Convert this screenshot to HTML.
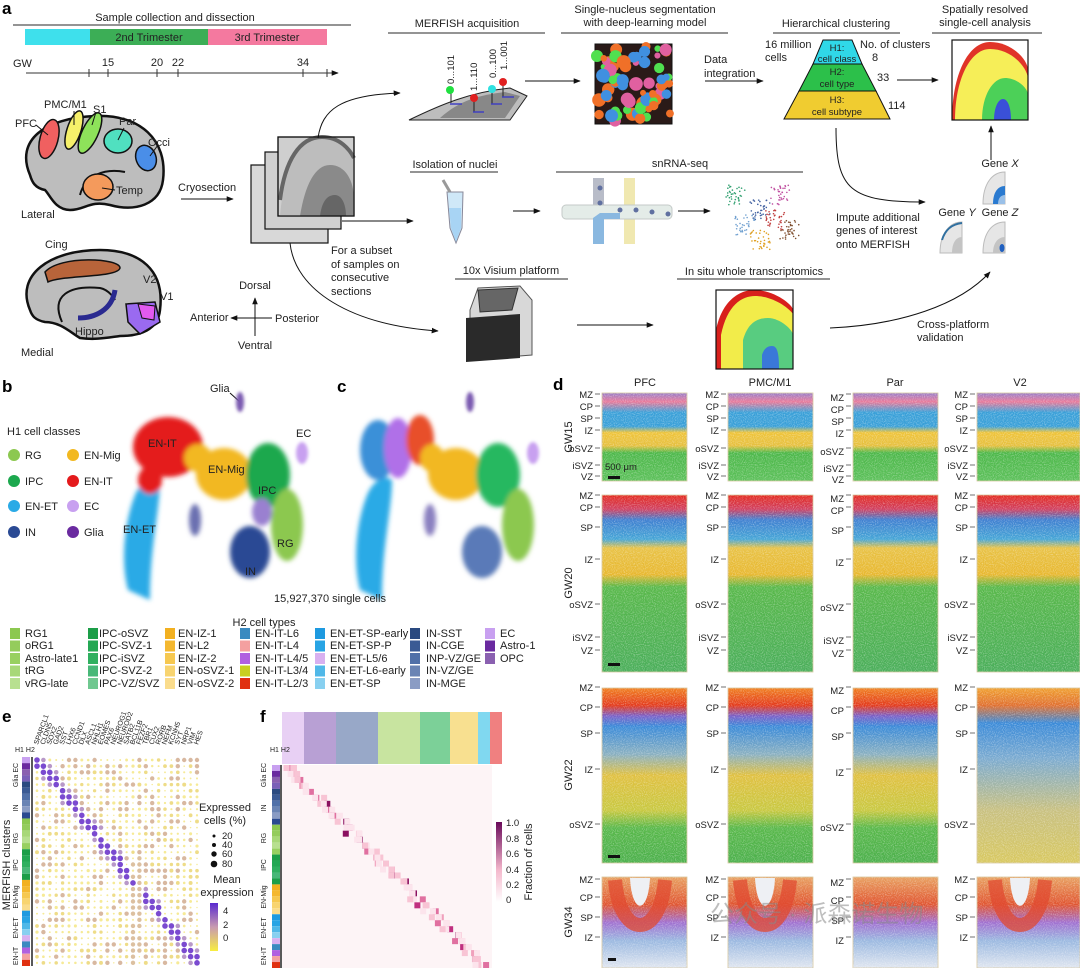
<!DOCTYPE html>
<html><head><meta charset="utf-8"><style>
html,body{margin:0;padding:0;background:#fff}
svg{display:block}
text{font-family:"Liberation Sans","Noto Sans CJK SC",sans-serif;fill:#222}
.t{font-size:11px}.s{font-size:9.5px}.xs{font-size:7px}.b{font-size:17px;font-weight:bold;fill:#000}
</style></head><body>
<svg id="S" width="1080" height="968" viewBox="0 0 1080 968" xmlns="http://www.w3.org/2000/svg">
<defs>
<marker id="ar" viewBox="0 0 10 10" refX="9" refY="5" markerWidth="7" markerHeight="7" orient="auto"><path d="M0,1 L10,5 L0,9 z" fill="#111"/></marker>
<filter id="bl"><feGaussianBlur stdDeviation="2.5"/></filter>
<filter id="bl2"><feGaussianBlur stdDeviation="1.5"/></filter>
<filter id="nz" x="0" y="0" width="1" height="1"><feTurbulence type="fractalNoise" baseFrequency="0.9" numOctaves="1" seed="3"/><feColorMatrix values="0 0 0 0 1  0 0 0 0 1  0 0 0 0 1  0 0 0 -2.2 1.25"/></filter>
<linearGradient id="g15" x1="0" y1="0" x2="0" y2="1"><stop offset="0" stop-color="#9a7fc9"/><stop offset=".1" stop-color="#e87a9a"/><stop offset=".22" stop-color="#3aa0d8"/><stop offset=".38" stop-color="#3aa0d8"/><stop offset=".45" stop-color="#efc43a"/><stop offset=".6" stop-color="#e6c040"/><stop offset=".68" stop-color="#4db84a"/><stop offset="1" stop-color="#5cc05a"/></linearGradient>
<linearGradient id="g20" x1="0" y1="0" x2="0" y2="1"><stop offset="0" stop-color="#e42a1e"/><stop offset=".08" stop-color="#d04060"/><stop offset=".14" stop-color="#3f7fd0"/><stop offset=".25" stop-color="#45a5d6"/><stop offset=".3" stop-color="#e8c246"/><stop offset=".45" stop-color="#e8b830"/><stop offset=".52" stop-color="#58b84a"/><stop offset="1" stop-color="#4aae5a"/></linearGradient>
<linearGradient id="g22" x1="0" y1="0" x2="0" y2="1"><stop offset="0" stop-color="#f08020"/><stop offset=".1" stop-color="#e33a1c"/><stop offset=".16" stop-color="#7a60c8"/><stop offset=".22" stop-color="#3a8ad8"/><stop offset=".38" stop-color="#8ab0c0"/><stop offset=".5" stop-color="#e0c040"/><stop offset=".7" stop-color="#c8c840"/><stop offset=".8" stop-color="#58b84a"/><stop offset="1" stop-color="#4cb04c"/></linearGradient>
<linearGradient id="g22v" x1="0" y1="0" x2="0" y2="1"><stop offset="0" stop-color="#f0a030"/><stop offset=".1" stop-color="#e07030"/><stop offset=".2" stop-color="#3a8ad8"/><stop offset=".4" stop-color="#7aaad0"/><stop offset=".7" stop-color="#c8c080"/><stop offset="1" stop-color="#d8c860"/></linearGradient>
<linearGradient id="g34" x1="0" y1="0" x2="0" y2="1"><stop offset="0" stop-color="#e8a060"/><stop offset=".3" stop-color="#e05530"/><stop offset=".5" stop-color="#a070d0"/><stop offset=".7" stop-color="#9ab8e0"/><stop offset="1" stop-color="#e0e6f0"/></linearGradient>
<linearGradient id="gme" x1="0" y1="1" x2="0" y2="0"><stop offset="0" stop-color="#f8ee40"/><stop offset=".5" stop-color="#c89ab0"/><stop offset="1" stop-color="#5a2ad0"/></linearGradient>
<linearGradient id="gfr" x1="0" y1="1" x2="0" y2="0"><stop offset="0" stop-color="#fff"/><stop offset=".4" stop-color="#f4b8cc"/><stop offset="1" stop-color="#6a0a5a"/></linearGradient>
</defs>

<!-- ===== Panel a ===== -->
<text x="2" y="14" class="b">a</text>
<text x="175" y="21" class="t" text-anchor="middle">Sample collection and dissection</text>
<line x1="13" y1="25" x2="351" y2="25" stroke="#555" stroke-width="1.2"/>
<rect x="25" y="29" width="65" height="16" fill="#3ee0ec"/>
<rect x="90" y="29" width="118" height="16" fill="#3cae56"/>
<rect x="208" y="29" width="119" height="16" fill="#f4799f"/>
<text x="149" y="41" class="t" text-anchor="middle">2nd Trimester</text>
<text x="267" y="41" class="t" text-anchor="middle">3rd Trimester</text>
<text x="13" y="67" class="t">GW</text>
<line x1="26" y1="73" x2="338" y2="73" stroke="#333" marker-end="url(#ar)"/>
<g stroke="#333"><line x1="89" y1="69" x2="89" y2="77"/><line x1="108" y1="69" x2="108" y2="77"/><line x1="157" y1="69" x2="157" y2="77"/><line x1="178" y1="69" x2="178" y2="77"/><line x1="303" y1="69" x2="303" y2="77"/><line x1="327" y1="69" x2="327" y2="77"/></g>
<text x="108" y="66" class="t" text-anchor="middle">15</text><text x="157" y="66" class="t" text-anchor="middle">20</text><text x="178" y="66" class="t" text-anchor="middle">22</text><text x="303" y="66" class="t" text-anchor="middle">34</text>

<!-- lateral brain -->
<path d="M30,175 C15,140 45,118 95,116 C140,114 168,140 163,180 C160,205 135,212 110,205 C90,200 85,210 70,210 C55,210 50,195 45,190 C35,188 32,182 30,175 Z" fill="#bdbdbd" stroke="#111" stroke-width="2.5"/>
<path d="M80,195 C85,175 105,168 125,172" fill="none" stroke="#111" stroke-width="2"/>
<ellipse cx="49" cy="139" rx="9" ry="20" transform="rotate(15 49 139)" fill="#f06060" stroke="#111" stroke-width="1.5"/>
<ellipse cx="74" cy="130" rx="7" ry="20" transform="rotate(18 74 130)" fill="#f6f06a" stroke="#111" stroke-width="1.5"/>
<ellipse cx="90" cy="133" rx="8" ry="22" transform="rotate(25 90 133)" fill="#8ee25a" stroke="#111" stroke-width="1.5"/>
<ellipse cx="118" cy="141" rx="14" ry="12" fill="#50e0c0" stroke="#111" stroke-width="1.5"/>
<ellipse cx="146" cy="158" rx="10" ry="13" transform="rotate(-20 146 158)" fill="#4a8ee8" stroke="#111" stroke-width="1.5"/>
<ellipse cx="98" cy="187" rx="15" ry="13" fill="#f49a5c" stroke="#111" stroke-width="1.5"/>
<g stroke="#111" stroke-width="1"><line x1="36" y1="125" x2="48" y2="135"/><line x1="74" y1="111" x2="74" y2="125"/><line x1="96" y1="112" x2="92" y2="125"/><line x1="124" y1="128" x2="118" y2="140"/><line x1="158" y1="145" x2="150" y2="156"/><line x1="115" y1="190" x2="102" y2="188"/></g>
<text x="15" y="127" class="t">PFC</text><text x="44" y="108" class="t">PMC/M1</text><text x="93" y="113" class="t">S1</text><text x="119" y="125" class="t">Par</text><text x="148" y="146" class="t">Occi</text><text x="116" y="194" class="t">Temp</text><text x="21" y="218" class="t">Lateral</text>
<!-- medial brain -->
<path d="M30,310 C15,275 50,250 100,250 C140,250 165,270 160,310 C158,330 140,336 120,336 C105,338 95,340 80,338 C70,332 60,322 45,322 C35,320 32,316 30,310 Z" fill="#bdbdbd" stroke="#111" stroke-width="2.5"/>
<path d="M45,272 C60,255 120,258 120,268 C118,278 60,275 48,282 Z" fill="#b8643a" stroke="#111" stroke-width="1.5"/>
<path d="M62,322 C50,295 70,285 100,288 C110,290 115,300 115,300" fill="none" stroke="#111" stroke-width="2"/>
<path d="M78,318 C95,318 112,310 115,290" fill="none" stroke="#2a2a90" stroke-width="5"/>
<path d="M126,304 L155,302 L160,322 L140,334 L128,322 Z" fill="#9a6af0" stroke="#111" stroke-width="1.5"/>
<path d="M138,304 L155,306 L154,320 L142,318 Z" fill="#e25af0" stroke="#111" stroke-width="1"/>
<text x="45" y="248" class="t">Cing</text><text x="143" y="283" class="t">V2</text><text x="160" y="300" class="t">V1</text><text x="75" y="335" class="t">Hippo</text><text x="21" y="356" class="t">Medial</text>

<text x="178" y="191" class="t">Cryosection</text>
<line x1="181" y1="199" x2="233" y2="199" stroke="#111" marker-end="url(#ar)"/>
<!-- sections -->
<g stroke="#111" stroke-width="1.2">
<rect x="251" y="165" width="77" height="78" fill="#d8d8d8"/>
<rect x="265" y="152" width="76" height="77" fill="#d0d0d0"/>
<rect x="278" y="137" width="76" height="79" fill="#cfcfcf"/>
</g>
<path d="M280,216 C285,160 300,137 322,137 C340,137 350,150 354,158 L354,216 Z" fill="#bdbdbd"/>
<path d="M300,216 C305,185 315,165 330,165 C345,165 354,180 354,200 L354,216 Z" fill="#8a8a8a"/>
<path d="M320,216 C322,200 328,195 335,195 C342,195 346,205 346,216 Z" fill="#666"/>
<path d="M280,200 C285,160 300,137 322,137 C340,137 350,150 354,158" fill="none" stroke="#666" stroke-width="4"/>
<rect x="278" y="137" width="76" height="79" fill="none" stroke="#111" stroke-width="1.2"/>
<path d="M318,138 C322,110 340,95 400,93" fill="none" stroke="#111" marker-end="url(#ar)"/>
<line x1="342" y1="221" x2="413" y2="221" stroke="#111" marker-end="url(#ar)"/>
<path d="M290,243 C295,290 350,325 438,331" fill="none" stroke="#111" marker-end="url(#ar)"/>
<text x="331" y="254" class="t">For a subset</text><text x="331" y="268" class="t">of samples on</text><text x="331" y="281" class="t">consecutive</text><text x="331" y="295" class="t">sections</text>
<text x="255" y="289" class="t" text-anchor="middle">Dorsal</text><text x="255" y="349" class="t" text-anchor="middle">Ventral</text>
<text x="190" y="321" class="t">Anterior</text><text x="275" y="322" class="t">Posterior</text>
<line x1="255" y1="336" x2="255" y2="298" stroke="#111" marker-end="url(#ar)"/><line x1="272" y1="318" x2="231" y2="318" stroke="#111" marker-end="url(#ar)"/>

<!-- MERFISH -->
<text x="467" y="27" class="t" text-anchor="middle">MERFISH acquisition</text>
<line x1="388" y1="33" x2="545" y2="33" stroke="#555" stroke-width="1.2"/>
<path d="M409,120 C440,105 470,92 510,88 L527,96 L510,120 Z" fill="#bdbdbd" stroke="#222"/>
<path d="M440,118 C460,100 480,95 505,92 L520,96 L505,118 Z" fill="#888"/>
<g stroke="#222"><line x1="451" y1="90" x2="451" y2="103"/><line x1="474" y1="98" x2="474" y2="112"/><line x1="492" y1="90" x2="492" y2="104"/><line x1="503" y1="83" x2="503" y2="97"/></g>
<g stroke="#4040c0" stroke-width="1.5"><line x1="450" y1="104" x2="462" y2="104"/><line x1="473" y1="112" x2="484" y2="112"/><line x1="491" y1="104" x2="502" y2="104"/><line x1="502" y1="97" x2="514" y2="97"/></g>
<circle cx="450" cy="90" r="4" fill="#20e040"/><circle cx="474" cy="98" r="4" fill="#e02020"/><circle cx="492" cy="89" r="4" fill="#30e0e0"/><circle cx="503" cy="82" r="4" fill="#e02020"/>
<g class="s"><text transform="translate(454,84) rotate(-90)" class="s">0...101</text><text transform="translate(477,91) rotate(-90)" class="s">1...110</text><text transform="translate(496,78) rotate(-90)" class="s">0...100</text><text transform="translate(507,70) rotate(-90)" class="s">1...001</text></g>
<line x1="525" y1="81" x2="580" y2="81" stroke="#111" marker-end="url(#ar)"/>
<text x="645" y="13" class="t" text-anchor="middle">Single-nucleus segmentation</text>
<text x="645" y="26" class="t" text-anchor="middle">with deep-learning model</text>
<line x1="561" y1="33" x2="728" y2="33" stroke="#555" stroke-width="1.2"/>
<rect x="595" y="44" width="77" height="80" fill="#2a1a18" stroke="#111"/>
<g id="seg"></g>
<text x="704" y="63" class="t">Data</text><text x="704" y="77" class="t">integration</text>
<line x1="705" y1="81" x2="763" y2="81" stroke="#111" marker-end="url(#ar)"/>
<text x="836" y="27" class="t" text-anchor="middle">Hierarchical clustering</text>
<line x1="773" y1="33" x2="900" y2="33" stroke="#555" stroke-width="1.2"/>
<path d="M823,40 L852,40 L862,64 L813,64 Z" fill="#30d8e8" stroke="#111"/>
<path d="M813,64 L862,64 L876,91 L799,91 Z" fill="#2cc04a" stroke="#111"/>
<path d="M799,91 L876,91 L890,119 L784,119 Z" fill="#f0cc30" stroke="#111"/>
<text x="837" y="51" class="s" text-anchor="middle">H1:</text><text x="837" y="62" class="s" text-anchor="middle">cell class</text>
<text x="837" y="75" class="s" text-anchor="middle">H2:</text><text x="837" y="87" class="s" text-anchor="middle">cell type</text>
<text x="837" y="103" class="s" text-anchor="middle">H3:</text><text x="837" y="115" class="s" text-anchor="middle">cell subtype</text>
<text x="765" y="48" class="t">16 million</text><text x="765" y="61" class="t">cells</text>
<text x="860" y="48" class="t">No. of clusters</text><text x="872" y="61" class="t">8</text><text x="877" y="81" class="t">33</text><text x="888" y="109" class="t">114</text>
<line x1="897" y1="80" x2="938" y2="80" stroke="#111" marker-end="url(#ar)"/>
<text x="985" y="13" class="t" text-anchor="middle">Spatially resolved</text><text x="985" y="26" class="t" text-anchor="middle">single-cell analysis</text>
<line x1="932" y1="33" x2="1042" y2="33" stroke="#555" stroke-width="1.2"/>
<rect x="952" y="40" width="76" height="80" fill="#fff"/>
<path d="M952,120 C952,75 968,42 990,42 C1012,42 1028,60 1028,70 L1028,120 Z" fill="#e03428"/>
<path d="M955,120 C955,80 970,49 990,49 C1010,49 1026,65 1028,78 L1028,120 Z" fill="#f6ee58"/>
<path d="M982,120 C982,95 993,78 1005,78 C1017,78 1028,88 1028,95 L1028,120 Z" fill="#4cd058"/>
<path d="M994,120 C994,108 998,99 1003,99 C1008,99 1011,108 1011,120 Z" fill="#3a50d8"/>
<rect x="952" y="40" width="76" height="80" fill="none" stroke="#111" stroke-width="1.2"/>
<line x1="991" y1="160" x2="991" y2="126" stroke="#111" marker-end="url(#ar)"/>

<!-- snRNA row -->
<text x="455" y="168" class="t" text-anchor="middle">Isolation of nuclei</text>
<line x1="410" y1="172" x2="498" y2="172" stroke="#555" stroke-width="1.2"/>
<path d="M447,192 L463,192 L462,228 L456,243 L450,228 Z" fill="#cfe8f8" stroke="#889"/>
<path d="M449,208 L461,208 L461,228 L456,242 L451,228 Z" fill="#a8d4f4"/>
<path d="M443,180 L450,192" stroke="#999" stroke-width="3"/>
<line x1="513" y1="211" x2="540" y2="211" stroke="#111" marker-end="url(#ar)"/>
<text x="680" y="167" class="t" text-anchor="middle">snRNA-seq</text>
<line x1="556" y1="172" x2="803" y2="172" stroke="#555" stroke-width="1.2"/>
<rect x="593" y="178" width="11" height="66" fill="#b8bcc8"/><rect x="624" y="178" width="11" height="66" fill="#f0e8b0"/>
<rect x="562" y="205" width="110" height="14" rx="4" fill="#e4ece8" stroke="#c4cac8"/>
<path d="M600,213 L620,213 L620,219 L604,219 L604,244 L593,244 L593,218 Z" fill="#8ab8e0"/>
<g fill="#6070a0"><circle cx="600" cy="188" r="2.5"/><circle cx="600" cy="203" r="2.5"/><circle cx="620" cy="210" r="2.5"/><circle cx="636" cy="210" r="2.5"/><circle cx="652" cy="212" r="2.5"/><circle cx="668" cy="214" r="2.5"/></g>
<line x1="678" y1="211" x2="710" y2="211" stroke="#111" marker-end="url(#ar)"/>
<g id="sc"></g>
<path d="M836,128 C836,190 850,202 925,202" fill="none" stroke="#111" marker-end="url(#ar)"/>
<text x="836" y="221" class="t">Impute additional</text><text x="836" y="234" class="t">genes of interest</text><text x="836" y="248" class="t">onto MERFISH</text>
<text x="1000" y="167" class="t" text-anchor="middle">Gene <tspan font-style="italic">X</tspan></text>
<text x="957" y="216" class="t" text-anchor="middle">Gene <tspan font-style="italic">Y</tspan></text>
<text x="1000" y="216" class="t" text-anchor="middle">Gene <tspan font-style="italic">Z</tspan></text>
<g>
<path d="M983,204 C983,184 992,172 1005,172 L1005,204 Z" fill="#e6e6e6" stroke="#bbb"/><path d="M993,204 C993,192 998,186 1005,186 L1005,204 Z" fill="#2a7ad0"/><path d="M998,204 C998,198 1001,195 1005,195 L1005,204 Z" fill="#9ac0e8"/>
<path d="M940,253 C940,233 950,222 962,222 L962,253 Z" fill="#e6e6e6" stroke="#bbb"/><path d="M942,240 C945,230 952,224 962,223" fill="none" stroke="#3070a0" stroke-width="2"/><path d="M952,253 C952,243 956,237 962,237 L962,253 Z" fill="#c4c4c4"/>
<path d="M983,253 C983,233 992,222 1005,222 L1005,253 Z" fill="#e6e6e6" stroke="#bbb"/><path d="M993,253 C993,243 998,237 1005,237 L1005,253 Z" fill="#c4c4c4"/><ellipse cx="1002" cy="248" rx="2.5" ry="4" fill="#2060c0"/>
</g>

<!-- visium row -->
<text x="511" y="274" class="t" text-anchor="middle">10x Visium platform</text>
<line x1="455" y1="279" x2="568" y2="279" stroke="#555" stroke-width="1.2"/>
<path d="M470,310 L478,288 L520,286 L532,300 L532,355 L470,360 Z" fill="#d8d8d8" stroke="#555"/>
<path d="M478,290 L518,288 L512,310 L480,312 Z" fill="#666" stroke="#333"/>
<path d="M466,318 L520,314 L520,358 L466,362 Z" fill="#2a2a2a"/>
<line x1="577" y1="325" x2="653" y2="325" stroke="#111" marker-end="url(#ar)"/>
<text x="754" y="275" class="t" text-anchor="middle">In situ whole transcriptomics</text>
<line x1="677" y1="279" x2="830" y2="279" stroke="#555" stroke-width="1.2"/>
<rect x="716" y="290" width="77" height="79" fill="#fff"/>
<path d="M716,369 L716,330 C722,300 740,290 754,290 C775,290 793,305 793,310 L793,369 Z" fill="#d8201c"/>
<path d="M721,369 L721,335 C727,305 742,296 755,296 C773,296 789,308 793,314 L793,369 Z" fill="#f2ec4a"/>
<path d="M743,369 L743,340 C748,322 758,318 768,318 C780,318 793,330 793,335 L793,369 Z" fill="#58cc80"/>
<path d="M762,369 L762,355 C764,348 768,346 772,346 C777,346 779,352 779,369 Z" fill="#3a78d8"/>
<rect x="716" y="290" width="77" height="79" fill="none" stroke="#111" stroke-width="1.2"/>
<path d="M830,328 C900,325 960,305 990,272" fill="none" stroke="#111" marker-end="url(#ar)"/>
<text x="917" y="328" class="t">Cross-platform</text><text x="917" y="341" class="t">validation</text>

<!-- ===== Panel b/c ===== -->
<text x="2" y="392" class="b">b</text>
<text x="337" y="392" class="b">c</text>
<text x="210" y="392" class="t">Glia</text>
<line x1="230" y1="393" x2="240" y2="402" stroke="#111"/>
<text x="7" y="435" class="t">H1 cell classes</text>
<g>
<circle cx="14" cy="455" r="6" fill="#8cc850"/><text x="25" y="459" class="t">RG</text>
<circle cx="73" cy="455" r="6" fill="#f2b820"/><text x="84" y="459" class="t">EN-Mig</text>
<circle cx="14" cy="481" r="6" fill="#1ca84e"/><text x="25" y="485" class="t">IPC</text>
<circle cx="73" cy="481" r="6" fill="#e41a1c"/><text x="84" y="485" class="t">EN-IT</text>
<circle cx="14" cy="506" r="6" fill="#2aaae6"/><text x="25" y="510" class="t">EN-ET</text>
<circle cx="73" cy="506" r="6" fill="#c8a0f0"/><text x="84" y="510" class="t">EC</text>
<circle cx="14" cy="532" r="6" fill="#2a4a94"/><text x="25" y="536" class="t">IN</text>
<circle cx="73" cy="532" r="6" fill="#6a2aa0"/><text x="84" y="536" class="t">Glia</text>
</g>
<g id="umapb" filter="url(#bl)">
<path d="M128,590 C120,560 125,520 135,495 C142,478 155,475 160,480 C160,510 150,545 150,600 Z" fill="#2aaae6"/>
<ellipse cx="168" cy="447" rx="35" ry="30" fill="#e41a1c"/>
<ellipse cx="150" cy="480" rx="12" ry="14" fill="#e41a1c"/>
<ellipse cx="224" cy="474" rx="28" ry="26" fill="#f2b820"/>
<ellipse cx="198" cy="458" rx="14" ry="14" fill="#f2b820"/>
<ellipse cx="268" cy="475" rx="22" ry="32" fill="#1ca84e"/>
<ellipse cx="287" cy="525" rx="16" ry="36" fill="#8cc850"/>
<ellipse cx="250" cy="552" rx="20" ry="26" fill="#2a4a94"/>
<ellipse cx="262" cy="512" rx="10" ry="14" fill="#9a80d0"/>
<ellipse cx="195" cy="520" rx="6" ry="16" fill="#6a70b0"/>
</g>
<g filter="url(#bl2)"><ellipse cx="240" cy="402" rx="4" ry="10" fill="#7a5ab0"/><ellipse cx="302" cy="453" rx="6" ry="11" fill="#c8a0f0"/><ellipse cx="533" cy="453" rx="6" ry="11" fill="#c8a0f0"/><ellipse cx="470" cy="402" rx="4" ry="10" fill="#7a5ab0"/></g>
<text x="148" y="447" class="t">EN-IT</text><text x="208" y="473" class="t">EN-Mig</text><text x="258" y="494" class="t">IPC</text><text x="123" y="533" class="t">EN-ET</text><text x="277" y="547" class="t">RG</text><text x="245" y="575" class="t">IN</text><text x="296" y="437" class="t">EC</text>
<g filter="url(#bl)">
<path d="M360,590 C352,560 357,520 367,495 C374,478 387,475 392,480 C392,510 382,545 382,600 Z" fill="#2aaae6"/>
<ellipse cx="378" cy="450" rx="18" ry="30" fill="#3a90d8"/>
<ellipse cx="398" cy="448" rx="14" ry="30" fill="#b070e8"/>
<ellipse cx="420" cy="440" rx="14" ry="25" fill="#e8502a"/>
<ellipse cx="456" cy="474" rx="28" ry="26" fill="#f2b820"/>
<ellipse cx="432" cy="458" rx="12" ry="14" fill="#f2b820"/>
<ellipse cx="498" cy="475" rx="22" ry="32" fill="#28b860"/>
<ellipse cx="518" cy="525" rx="16" ry="36" fill="#8cc850"/>
<ellipse cx="482" cy="552" rx="20" ry="26" fill="#5a7ab8"/>
<ellipse cx="430" cy="520" rx="6" ry="16" fill="#8a80c0"/>
</g>
<text x="330" y="602" class="t" text-anchor="middle">15,927,370 single cells</text>
<text x="264" y="626" class="t" text-anchor="middle">H2 cell types</text>
<g id="h2" class="t"></g>
<g class="t">
<text x="25" y="637">RG1</text><text x="25" y="649">oRG1</text><text x="25" y="662">Astro-late1</text><text x="25" y="674">tRG</text><text x="25" y="687">vRG-late</text>
<text x="99" y="637">IPC-oSVZ</text><text x="99" y="649">IPC-SVZ-1</text><text x="99" y="662">IPC-iSVZ</text><text x="99" y="674">IPC-SVZ-2</text><text x="99" y="687">IPC-VZ/SVZ</text>
<text x="178" y="637">EN-IZ-1</text><text x="178" y="649">EN-L2</text><text x="178" y="662">EN-IZ-2</text><text x="178" y="674">EN-oSVZ-1</text><text x="178" y="687">EN-oSVZ-2</text>
<text x="255" y="637">EN-IT-L6</text><text x="255" y="649">EN-IT-L4</text><text x="255" y="662">EN-IT-L4/5</text><text x="255" y="674">EN-IT-L3/4</text><text x="255" y="687">EN-IT-L2/3</text>
<text x="330" y="637">EN-ET-SP-early</text><text x="330" y="649">EN-ET-SP-P</text><text x="330" y="662">EN-ET-L5/6</text><text x="330" y="674">EN-ET-L6-early</text><text x="330" y="687">EN-ET-SP</text>
<text x="426" y="637">IN-SST</text><text x="426" y="649">IN-CGE</text><text x="426" y="662">INP-VZ/GE</text><text x="426" y="674">IN-VZ/GE</text><text x="426" y="687">IN-MGE</text>
<text x="500" y="637">EC</text><text x="500" y="649">Astro-1</text><text x="500" y="662">OPC</text>
</g>

<!-- ===== Panel e ===== -->
<text x="2" y="722" class="b">e</text>
<g id="genes" class="xs"></g>
<text x="15" y="752" class="xs">H1 H2</text>
<text transform="translate(10,865) rotate(-90)" class="t" text-anchor="middle">MERFISH clusters</text>
<g class="xs"><text transform="translate(18,775) rotate(-90)" text-anchor="middle">Glia EC</text><text transform="translate(18,808) rotate(-90)" text-anchor="middle">IN</text><text transform="translate(18,838) rotate(-90)" text-anchor="middle">RG</text><text transform="translate(18,865) rotate(-90)" text-anchor="middle">IPC</text><text transform="translate(18,897) rotate(-90)" text-anchor="middle">EN-Mig</text><text transform="translate(18,928) rotate(-90)" text-anchor="middle">EN-ET</text><text transform="translate(18,956) rotate(-90)" text-anchor="middle">EN-IT</text></g>
<g id="edots"></g>
<text x="225" y="811" class="t" text-anchor="middle">Expressed</text><text x="225" y="824" class="t" text-anchor="middle">cells (%)</text>
<circle cx="214" cy="836" r="1.5" fill="#111"/><circle cx="214" cy="845" r="2" fill="#111"/><circle cx="214" cy="854" r="2.7" fill="#111"/><circle cx="214" cy="864" r="3.3" fill="#111"/>
<text x="222" y="839" class="s">20</text><text x="222" y="848" class="s">40</text><text x="222" y="857" class="s">60</text><text x="222" y="867" class="s">80</text>
<text x="227" y="883" class="t" text-anchor="middle">Mean</text><text x="227" y="896" class="t" text-anchor="middle">expression</text>
<rect x="210" y="903" width="8" height="48" fill="url(#gme)"/>
<text x="223" y="914" class="s">4</text><text x="223" y="928" class="s">2</text><text x="223" y="941" class="s">0</text>

<!-- ===== Panel f ===== -->
<text x="260" y="722" class="b">f</text>
<g id="fhead"></g>
<text x="270" y="752" class="xs">H1 H2</text>
<g class="xs"><text transform="translate(266,775) rotate(-90)" text-anchor="middle">Glia EC</text><text transform="translate(266,808) rotate(-90)" text-anchor="middle">IN</text><text transform="translate(266,838) rotate(-90)" text-anchor="middle">RG</text><text transform="translate(266,865) rotate(-90)" text-anchor="middle">IPC</text><text transform="translate(266,897) rotate(-90)" text-anchor="middle">EN-Mig</text><text transform="translate(266,928) rotate(-90)" text-anchor="middle">EN-ET</text><text transform="translate(266,956) rotate(-90)" text-anchor="middle">EN-IT</text></g>
<g id="fmap"></g>
<rect x="496" y="822" width="6" height="80" fill="url(#gfr)"/>
<g class="s"><text x="506" y="826">1.0</text><text x="506" y="842">0.8</text><text x="506" y="857">0.6</text><text x="506" y="873">0.4</text><text x="506" y="888">0.2</text><text x="506" y="903">0</text></g>
<text transform="translate(532,862) rotate(-90)" class="t" text-anchor="middle">Fraction of cells</text>

<!-- ===== Panel d ===== -->
<text x="553" y="390" class="b">d</text>
<text x="645" y="386" class="t" text-anchor="middle">PFC</text><text x="770" y="386" class="t" text-anchor="middle">PMC/M1</text><text x="895" y="386" class="t" text-anchor="middle">Par</text><text x="1020" y="386" class="t" text-anchor="middle">V2</text>
<g class="t"><text transform="translate(572,437) rotate(-90)" text-anchor="middle">GW15</text><text transform="translate(572,583) rotate(-90)" text-anchor="middle">GW20</text><text transform="translate(572,775) rotate(-90)" text-anchor="middle">GW22</text><text transform="translate(572,922) rotate(-90)" text-anchor="middle">GW34</text></g>
<g id="tiles"></g>
<g id="lbl" class="s"></g>
<text x="605" y="470" class="s">500 μm</text>
<text x="710" y="922" font-size="24" style="fill:#888;fill-opacity:.55" font-family="Noto Sans CJK SC, sans-serif">公众号 · 派森诺生物</text>
</svg>
<script>
var NS="http://www.w3.org/2000/svg";
function el(p,t,a){var e=document.createElementNS(NS,t);for(var k in a)e.setAttribute(k,a[k]);document.getElementById(p).appendChild(e);return e;}
var r=1;function rnd(){r=(r*16807)%2147483647;return r/2147483647;}
var sc=['#f07028','#f07028','#50e050','#e060a0','#4090e0'];
for(var i=0;i<70;i++)el('seg','circle',{cx:597+rnd()*73,cy:46+rnd()*76,r:3+rnd()*4,fill:sc[Math.floor(rnd()*5)]});
var cl=[[735,195,'#30a070'],[760,210,'#4060a0'],[745,225,'#70a0d0'],[780,195,'#c050a0'],[775,220,'#c04040'],[760,240,'#e0a020'],[790,230,'#805030']];
cl.forEach(function(c){for(var i=0;i<35;i++)el('sc','circle',{cx:c[0]+(rnd()-.5)*20,cy:c[1]+(rnd()-.5)*20,r:.8,fill:c[2]});});
var cols=[[10,['#8cc850','#94cc5c','#98d060','#a8d878','#b8e090']],[88,['#1c9e48','#24a854','#30b060','#48b878','#70c890']],[165,['#f2b020','#f4b830','#f6c850','#f8d470','#fadc8c']],[240,['#3a8ac0','#f4a0a0','#b060e0','#c8d020','#e03010']],[315,['#1e9ae0','#28a4e4','#d8b0f0','#50b8e8','#88d0f0']],[410,['#2a4a80','#3a5a94','#5070a8','#6a84b4','#8a9cc4']],[485,['#c8a0f0','#6a2aa0','#8a60b0']]];
cols.forEach(function(c){c[1].forEach(function(f,j){el('h2','rect',{x:c[0],y:628+j*12.5,width:10,height:11,fill:f});});});
var g=['SPARCL1','CLDN5','SOX2','GAD2','SST','LHX6','CCND1','DLX','ASCL1','NHLH1','EOMES','PAX6','NEUROG1','NEUROD2','SATB2','BCL11B','FEZF2','TBR1','CUX2','RORB','NEFM','KCNH5','SYT','NRP1','VIM','HES'];
var n=26,nr=34;
g.forEach(function(s,i){var t=el('genes','text',{transform:'translate('+(38+i*6.4)+',745) rotate(-70)'});t.textContent=s;});
var hcol=['#c8a0f0','#6a2aa0','#8a60b0','#7a60b8','#2a4a80','#3a5a94','#5070a8','#6a84b4','#8a9cc4','#2a4a90','#8cc850','#94cc5c','#a8d878','#b8e090','#98d060','#1c9e48','#24a854','#30b060','#48b878','#1c9e48','#f2b020','#f4b830','#f6c850','#f8d470','#fadc8c','#1e9ae0','#28a4e4','#50b8e8','#88d0f0','#d8b0f0','#3a8ac0','#b060e0','#f4a0a0','#e03010'];
var dy=(966-757)/nr;
for(var j=0;j<nr;j++){el('edots','rect',{x:22,y:757+j*dy,width:8,height:dy,fill:hcol[j]});el('fmap','rect',{x:272,y:765+j*(203/nr),width:8,height:203/nr,fill:hcol[j]});}
el('edots','line',{x1:32,y1:757,x2:32,y2:966,stroke:'#222','stroke-width':1.5});
for(var j=0;j<nr;j++)for(var i=0;i<n;i++){var d=Math.abs(i-j*n/nr),v=rnd();var rad=.7+v*1.6,f='#f6ea96';
if(d<0.8){rad=2.8;f='#7a4ad0';}else if(d<1.6&&v>.4){rad=2.3;f='#b898c8';}else if(v>.8){f='#d8b8a0';rad=2.2;}else if(v>.6)f='#eedc88';
if((i==15||i==16)&&j>15&&v>.3){f='#dcc0a0';rad=2.2;}
el('edots','circle',{cx:37+i*6.4,cy:760+j*dy,r:rad,fill:f});}
el('fhead','rect',{x:282,y:712,width:208,height:52,fill:'#f6f0f4'});
var hx=[[282,22,'#e8d0f4'],[304,32,'#b8a0d4'],[336,42,'#98a8c8'],[378,42,'#c8e4a0'],[420,30,'#7cd098'],[450,28,'#f8e090'],[478,12,'#80d8f0'],[490,12,'#f08080']];
hx.forEach(function(h){el('fhead','rect',{x:h[0],y:712,width:h[1],height:52,fill:h[2]});});
el('fmap','rect',{x:282,y:765,width:210,height:203,fill:'#fdf4f6'});
el('fmap','line',{x1:281,y1:765,x2:281,y2:968,stroke:'#222','stroke-width':1.5});
var fc=['#fce4ec','#f8c4d4','#f0a0bc','#e070a0','#c03080','#8a1060'];
for(var j=0;j<nr;j++){for(var k=0;k<3;k++){var x=282+(j/nr)*200+(rnd()-.3)*14;var v=k==0?2+Math.floor(rnd()*4):Math.floor(rnd()*2);el('fmap','rect',{x:x,y:765+j*(203/nr),width:6,height:6,fill:fc[v]});}}
var cx=[[602,85],[728,85],[853,85],[977,103]],rw=[[393,88,'g15'],[495,177,'g20'],[688,175,'g22'],[877,91,'g34']];
rw.forEach(function(R,ri){cx.forEach(function(C,ci){var gid=R[2];if(ri==2&&ci==3)gid='g22v';el('tiles','rect',{x:C[0],y:R[0],width:C[1],height:R[1],fill:'url(#'+gid+')',stroke:'#d8c8a0','stroke-width':.8});
el('tiles','rect',{x:C[0],y:R[0],width:C[1],height:R[1],filter:'url(#nz)',opacity:.45});});});
[[640,0],[765,0],[1020,0]].forEach(function(p){el('tiles','path',{d:'M'+(p[0]-25)+',880 C'+(p[0]-20)+',940 '+(p[0]+20)+',940 '+(p[0]+25)+',880',fill:'none',stroke:'#e04a30','stroke-width':14,opacity:.75});el('tiles','path',{d:'M'+(p[0]-10)+',878 C'+(p[0]-8)+',915 '+(p[0]+8)+',915 '+(p[0]+10)+',878',fill:'#eef0f4'});});
el('tiles','rect',{x:608,y:476,width:12,height:3,fill:'#111'});el('tiles','rect',{x:608,y:663,width:12,height:3,fill:'#111'});el('tiles','rect',{x:608,y:855,width:12,height:3,fill:'#111'});el('tiles','rect',{x:608,y:958,width:8,height:3,fill:'#111'});
var L=[[['MZ',398],['CP',410],['SP',422],['IZ',434],['oSVZ',452],['iSVZ',469],['VZ',480]],
[['MZ',499],['CP',511],['SP',531],['IZ',563],['oSVZ',608],['iSVZ',641],['VZ',654]],
[['MZ',691],['CP',711],['SP',737],['IZ',773],['oSVZ',828]],
[['MZ',883],['CP',901],['SP',921],['IZ',941]]];
var lx=[597,723,848,972];
L.forEach(function(rowL,ri){lx.forEach(function(x,ci){rowL.forEach(function(l){var t=el('lbl','text',{x:x-4,y:l[1]+(ci==2?3:0),'text-anchor':'end'});t.textContent=l[0];el('lbl','line',{x1:x-2,y1:l[1]-4,x2:x+3,y2:l[1]-4,stroke:'#333','stroke-width':.7});});});});
</script>
</body></html>
